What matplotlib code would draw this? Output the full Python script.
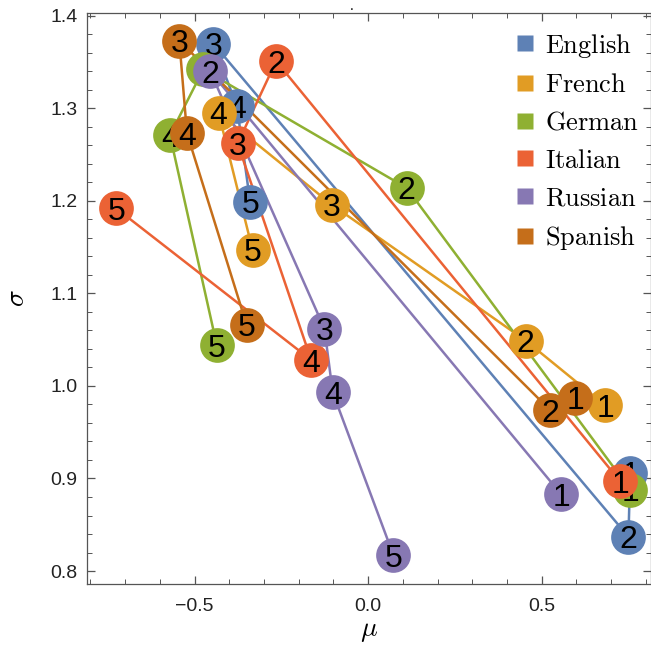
import matplotlib.pyplot as plt
from matplotlib.ticker import MultipleLocator
from matplotlib.lines import Line2D

plt.rcParams["font.family"] = ["Liberation Sans", "DejaVu Sans"]
plt.rcParams["mathtext.fontset"] = "cm"

languages = ["English", "French", "German", "Italian", "Russian", "Spanish"]
colors = ["#5E81B5", "#E19C24", "#8FB032", "#EB6235", "#8778B3", "#C56E1A"]
labels = ["1", "2", "3", "4", "5"]

# (mu, sigma) per step 1..5
mu_english = [0.755, 0.750, -0.446, -0.378, -0.340]
sigma_english = [0.906, 0.837, 1.370, 1.302, 1.199]
mu_french = [0.683, 0.454, -0.105, -0.431, -0.333]
sigma_french = [0.979, 1.049, 1.196, 1.295, 1.147]
mu_german = [0.755, 0.111, -0.475, -0.571, -0.436]
sigma_german = [0.888, 1.214, 1.342, 1.271, 1.044]
mu_italian = [0.726, -0.265, -0.376, -0.164, -0.726]
sigma_italian = [0.897, 1.351, 1.262, 1.028, 1.192]
mu_russian = [0.556, -0.455, -0.126, -0.102, 0.073]
sigma_russian = [0.883, 1.340, 1.062, 0.993, 0.817]
mu_spanish = [0.597, 0.524, -0.544, -0.522, -0.350]
sigma_spanish = [0.987, 0.974, 1.373, 1.273, 1.066]

mus = [mu_english, mu_french, mu_german, mu_italian, mu_russian, mu_spanish]
sigmas = [sigma_english, sigma_french, sigma_german, sigma_italian, sigma_russian, sigma_spanish]

fig = plt.figure(figsize=(6.51, 6.52), dpi=100)
ax = fig.add_axes([87 / 651, 68 / 652, 564 / 651, 571 / 652])

for mu, sig, c in zip(mus, sigmas, colors):
    ax.plot(mu, sig, color=c, lw=1.8, zorder=1)

z = 2
for mu, sig, c in zip(mus, sigmas, colors):
    for x, y, lab in zip(mu, sig, labels):
        ax.plot(x, y, "o", ms=25, color=c, mec="none", zorder=z)
        ax.text(x, y, lab, ha="center", va="center_baseline", fontsize=23,
                color="black", zorder=z + 0.5)
        z += 1

ax.set_xlim(-0.81, 0.815)
ax.set_ylim(0.786, 1.403)
ax.xaxis.set_major_locator(MultipleLocator(0.5))
ax.xaxis.set_minor_locator(MultipleLocator(0.1))
ax.yaxis.set_major_locator(MultipleLocator(0.1))
ax.yaxis.set_minor_locator(MultipleLocator(0.02))
ax.tick_params(which="both", direction="in", top=True, right=True, color="#555555",
               labelsize=14, labelcolor="#222222")
ax.tick_params(axis="x", pad=10)
ax.tick_params(axis="y", pad=7)
ax.tick_params(which="major", length=6, width=0.9)
ax.tick_params(which="minor", length=3.5, width=0.7)
for s in ax.spines.values():
    s.set_color("#555555")
    s.set_linewidth(0.9)

ax.set_xlabel(r"$\mu$", fontsize=20, labelpad=2)
ax.set_ylabel(r"$\sigma$", fontsize=20, labelpad=14)
fig.text(352 / 651, 1 - 5 / 652, ".", ha="center", va="center_baseline", fontsize=10)

handles = [Line2D([], [], marker="s", ls="none", ms=11, color=c, mec="none") for c in colors]
ax.legend(handles, [r"$\mathrm{%s}$" % l for l in languages], loc="upper right",
          bbox_to_anchor=(1.004, 0.993), frameon=False, fontsize=19, handletextpad=0.35,
          labelspacing=0.52, borderaxespad=0.15, handlelength=0.8)

fig.savefig("out.png", dpi=100)
